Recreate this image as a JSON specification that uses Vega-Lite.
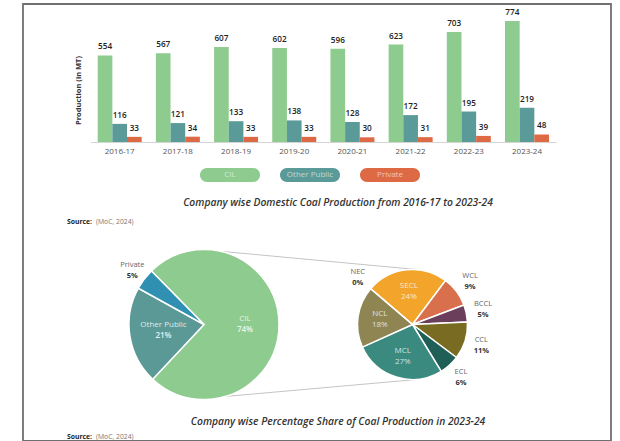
{
  "$schema": "https://vega.github.io/schema/vega-lite/v6.json",
  "width": 588,
  "height": 437,
  "autosize": "none",
  "padding": {"left": 23, "top": 4, "right": 9, "bottom": 0},
  "background": "#ffffff",
  "config": {
    "view": {"stroke": "#707070", "strokeWidth": 1.8},
    "font": "Open Sans",
    "axis": {"grid": false}
  },
  "datasets": {
    "production": [
      {"year": "2016-17", "company": "CIL", "mt": 554},
      {"year": "2016-17", "company": "Other Public", "mt": 116},
      {"year": "2016-17", "company": "Private", "mt": 33},
      {"year": "2017-18", "company": "CIL", "mt": 567},
      {"year": "2017-18", "company": "Other Public", "mt": 121},
      {"year": "2017-18", "company": "Private", "mt": 34},
      {"year": "2018-19", "company": "CIL", "mt": 607},
      {"year": "2018-19", "company": "Other Public", "mt": 133},
      {"year": "2018-19", "company": "Private", "mt": 33},
      {"year": "2019-20", "company": "CIL", "mt": 602},
      {"year": "2019-20", "company": "Other Public", "mt": 138},
      {"year": "2019-20", "company": "Private", "mt": 33},
      {"year": "2020-21", "company": "CIL", "mt": 596},
      {"year": "2020-21", "company": "Other Public", "mt": 128},
      {"year": "2020-21", "company": "Private", "mt": 30},
      {"year": "2021-22", "company": "CIL", "mt": 623},
      {"year": "2021-22", "company": "Other Public", "mt": 172},
      {"year": "2021-22", "company": "Private", "mt": 31},
      {"year": "2022-23", "company": "CIL", "mt": 703},
      {"year": "2022-23", "company": "Other Public", "mt": 195},
      {"year": "2022-23", "company": "Private", "mt": 39},
      {"year": "2023-24", "company": "CIL", "mt": 774},
      {"year": "2023-24", "company": "Other Public", "mt": 219},
      {"year": "2023-24", "company": "Private", "mt": 48}
    ],
    "companies": [
      {"company": "CIL"},
      {"company": "Other Public"},
      {"company": "Private"}
    ],
    "captions": [
      {"caption": "Company wise Domestic Coal Production from 2016-17 to 2023-24"},
      {"caption": "Company wise Percentage Share of Coal Production in 2023-24"}
    ],
    "sources": [
      {"figure": "production", "part": "Source:"},
      {"figure": "production", "part": "(MoC, 2024)"},
      {"figure": "share", "part": "Source:"},
      {"figure": "share", "part": "(MoC, 2024)"}
    ],
    "overall": [
      {"pie": "Company-wise", "company": "CIL", "mt": 774, "share": 0.74, "seq": 1},
      {"pie": "Company-wise", "company": "Other Public", "mt": 219, "share": 0.21, "seq": 2},
      {"pie": "Company-wise", "company": "Private", "mt": 48, "share": 0.05, "seq": 3}
    ],
    "cil": [
      {"pie": "CIL subsidiaries", "subsidiary": "SECL", "share": 0.24, "seq": 1},
      {"pie": "CIL subsidiaries", "subsidiary": "WCL", "share": 0.09, "seq": 2},
      {"pie": "CIL subsidiaries", "subsidiary": "BCCL", "share": 0.05, "seq": 3},
      {"pie": "CIL subsidiaries", "subsidiary": "CCL", "share": 0.11, "seq": 4},
      {"pie": "CIL subsidiaries", "subsidiary": "ECL", "share": 0.06, "seq": 5},
      {"pie": "CIL subsidiaries", "subsidiary": "MCL", "share": 0.27, "seq": 6},
      {"pie": "CIL subsidiaries", "subsidiary": "NCL", "share": 0.18, "seq": 7},
      {"pie": "CIL subsidiaries", "subsidiary": "NEC", "share": 0.0, "seq": 8}
    ],
    "links": [
      {"from": "Company-wise", "to": "CIL subsidiaries", "edge": "top"},
      {"from": "Company-wise", "to": "CIL subsidiaries", "edge": "bottom"}
    ]
  },
  "resolve": {"scale": {"x": "independent", "y": "independent", "color": "independent"}},
  "layer": [
    {
      "data": {"name": "production"},
      "encoding": {
        "x": {
          "field": "year", "type": "nominal",
          "scale": {"range": [67.6, 533.1], "paddingInner": 0.244, "paddingOuter": 0.122},
          "axis": {"orient": "bottom", "offset": -299, "title": null, "domainColor": "#d4d4d4", "domainWidth": 1, "ticks": false, "labelColor": "#555555", "labelFontSize": 8, "labelPadding": 5, "labelAngle": 0}
        },
        "xOffset": {"field": "company", "type": "nominal", "sort": ["CIL", "Other Public", "Private"], "scale": {"paddingInner": 0, "paddingOuter": 0}},
        "y": {
          "field": "mt", "type": "quantitative",
          "scale": {"domain": [0, 774], "range": [138, 17], "nice": false},
          "axis": {"orient": "left", "title": "Production (in MT)", "domain": false, "ticks": false, "labels": false, "titleX": 59, "titleY": 86, "titleFontSize": 7.5, "titleFontWeight": "bold", "titleColor": "#333333", "titleAngle": -90}
        }
      },
      "layer": [
        {
          "mark": {"type": "bar"},
          "encoding": {
            "color": {"field": "company", "type": "nominal", "scale": {"domain": ["CIL", "Other Public", "Private"], "range": ["#8dcb8e", "#5a9a98", "#dd6a44"]}, "legend": null}
          }
        },
        {
          "mark": {"type": "text", "dy": -6, "baseline": "alphabetic", "fontSize": 8.2, "fontWeight": 600, "color": "#222222"},
          "encoding": {"text": {"field": "mt", "type": "quantitative"}}
        }
      ]
    },
    {
      "data": {"name": "companies"},
      "encoding": {
        "x": {"field": "company", "type": "nominal", "sort": ["CIL", "Other Public", "Private"], "scale": {"range": [167, 407], "paddingInner": 0.25, "paddingOuter": 0.125}, "axis": null},
        "y": {"datum": "legend", "type": "nominal", "scale": {"range": [164, 178], "paddingInner": 0, "paddingOuter": 0}, "axis": null}
      },
      "layer": [
        {
          "mark": {"type": "rect", "cornerRadius": 7},
          "encoding": {
            "color": {"field": "company", "type": "nominal", "scale": {"domain": ["CIL", "Other Public", "Private"], "range": ["#8dcb8e", "#5a9a98", "#dd6a44"]}, "legend": null}
          }
        },
        {
          "mark": {"type": "text", "fontSize": 8, "color": "#ffffff", "opacity": 0.6, "baseline": "middle"},
          "encoding": {"text": {"field": "company", "type": "nominal"}}
        }
      ]
    },
    {
      "data": {"name": "captions"},
      "mark": {"type": "text", "fontSize": 10.3, "fontStyle": "italic", "fontWeight": 600, "color": "#333333", "align": "center", "baseline": "middle"},
      "encoding": {
        "x": {"field": "caption", "type": "nominal", "sort": null, "scale": {"type": "point", "range": [315, 315.01], "padding": 0}, "axis": null},
        "y": {"field": "caption", "type": "nominal", "sort": null, "scale": {"type": "point", "range": [199, 418], "padding": 0}, "axis": null},
        "text": {"field": "caption", "type": "nominal"}
      }
    },
    {
      "data": {"name": "sources"},
      "encoding": {
        "x": {"field": "part", "type": "nominal", "scale": {"type": "point", "domain": ["Source:", "(MoC, 2024)"], "range": [44, 73], "padding": 0}, "axis": null},
        "y": {"field": "figure", "type": "nominal", "scale": {"type": "point", "domain": ["production", "share"], "range": [218, 432.5], "padding": 0}, "axis": null},
        "text": {"field": "part", "type": "nominal"}
      },
      "layer": [
        {
          "transform": [{"filter": "datum.part === 'Source:'"}],
          "mark": {"type": "text", "fontSize": 6.8, "fontWeight": "bold", "color": "#222222", "align": "left", "baseline": "middle"}
        },
        {
          "transform": [{"filter": "datum.part !== 'Source:'"}],
          "mark": {"type": "text", "fontSize": 6.8, "color": "#777777", "align": "left", "baseline": "middle"}
        }
      ]
    },
    {
      "encoding": {
        "x": {"field": "pie", "type": "nominal", "scale": {"type": "point", "domain": ["Company-wise", "CIL subsidiaries"], "range": [181, 389.5], "padding": 0}, "axis": null},
        "y": {"field": "pie", "type": "nominal", "scale": {"type": "point", "domain": ["Company-wise", "CIL subsidiaries"], "range": [320.5, 320.5], "padding": 0}, "axis": null}
      },
      "resolve": {"scale": {"theta": "independent", "color": "independent"}},
      "layer": [
        {
          "data": {"name": "links"},
          "transform": [{"filter": "datum.edge === 'top'"}],
          "mark": {"type": "rule", "color": "#c4c4c4", "strokeWidth": 1, "xOffset": 19, "yOffset": -73, "x2Offset": 4, "y2Offset": -55},
          "encoding": {
            "x": {"field": "from", "type": "nominal"},
            "x2": {"field": "to"},
            "y": {"field": "from", "type": "nominal"},
            "y2": {"field": "to"}
          }
        },
        {
          "data": {"name": "links"},
          "transform": [{"filter": "datum.edge === 'bottom'"}],
          "mark": {"type": "rule", "color": "#c4c4c4", "strokeWidth": 1, "xOffset": 21, "yOffset": 72, "x2Offset": 4, "y2Offset": 55},
          "encoding": {
            "x": {"field": "from", "type": "nominal"},
            "x2": {"field": "to"},
            "y": {"field": "from", "type": "nominal"},
            "y2": {"field": "to"}
          }
        },
        {
          "data": {"name": "overall"},
          "encoding": {
            "theta": {"field": "mt", "type": "quantitative", "stack": true, "scale": {"range": [-0.7767, 5.5065]}},
            "order": {"field": "seq", "type": "quantitative"}
          },
          "layer": [
            {
              "mark": {"type": "arc", "outerRadius": 75, "stroke": "#ffffff", "strokeWidth": 1.5},
              "encoding": {
                "color": {"field": "company", "type": "nominal", "scale": {"domain": ["CIL", "Other Public", "Private"], "range": ["#8dcb8e", "#5b9996", "#2f90b2"]}, "legend": null}
              }
            },
            {
              "mark": {"type": "text", "radius": 41, "dy": -5.5, "fontSize": 8, "color": "#ffffff", "opacity": 0.8, "baseline": "middle"},
              "encoding": {"text": {"condition": {"test": "datum.company !== 'Private'", "field": "company", "type": "nominal"}, "value": ""}}
            },
            {
              "mark": {"type": "text", "radius": 41, "dy": 5.5, "fontSize": 8, "fontWeight": 600, "color": "#ffffff", "opacity": 0.85, "baseline": "middle"},
              "encoding": {"text": {"condition": {"test": "datum.company !== 'Private'", "field": "share", "type": "quantitative", "format": ".0%"}, "value": ""}}
            },
            {
              "mark": {"type": "text", "radius": 90, "dy": -5.5, "fontSize": 7.5, "color": "#666666", "baseline": "middle"},
              "encoding": {"text": {"condition": {"test": "datum.company === 'Private'", "field": "company", "type": "nominal"}, "value": ""}}
            },
            {
              "mark": {"type": "text", "radius": 90, "dy": 5.5, "fontSize": 7.5, "fontWeight": "bold", "color": "#333333", "baseline": "middle"},
              "encoding": {"text": {"condition": {"test": "datum.company === 'Private'", "field": "share", "type": "quantitative", "format": ".0%"}, "value": ""}}
            }
          ]
        },
        {
          "data": {"name": "cil"},
          "encoding": {
            "theta": {"field": "share", "type": "quantitative", "stack": true, "scale": {"range": [-0.8639, 5.4193]}},
            "order": {"field": "seq", "type": "quantitative"}
          },
          "layer": [
            {
              "mark": {"type": "arc", "outerRadius": 55, "stroke": "#ffffff", "strokeWidth": 1.5},
              "encoding": {
                "color": {"field": "subsidiary", "type": "nominal", "scale": {"domain": ["SECL", "WCL", "BCCL", "CCL", "ECL", "MCL", "NCL", "NEC"], "range": ["#f2a52a", "#d86f4d", "#6b3f5b", "#7a6b22", "#1f5f58", "#3a8a80", "#8e8553", "#9e9e9e"]}, "legend": null}
              }
            },
            {
              "mark": {"type": "text", "radius": 33, "dy": -5.5, "fontSize": 8, "color": "#ffffff", "opacity": 0.75, "baseline": "middle"},
              "encoding": {"text": {"condition": {"test": "indexof(['SECL','NCL','MCL'], datum.subsidiary) >= 0", "field": "subsidiary", "type": "nominal"}, "value": ""}}
            },
            {
              "mark": {"type": "text", "radius": 33, "dy": 5.5, "fontSize": 8, "color": "#ffffff", "opacity": 0.75, "baseline": "middle"},
              "encoding": {"text": {"condition": {"test": "indexof(['SECL','NCL','MCL'], datum.subsidiary) >= 0", "field": "share", "type": "quantitative", "format": ".0%"}, "value": ""}}
            },
            {
              "mark": {"type": "text", "radius": 72, "dy": -5.5, "fontSize": 7.5, "color": "#666666", "baseline": "middle"},
              "encoding": {"text": {"condition": {"test": "indexof(['SECL','NCL','MCL'], datum.subsidiary) < 0", "field": "subsidiary", "type": "nominal"}, "value": ""}}
            },
            {
              "mark": {"type": "text", "radius": 72, "dy": 5.5, "fontSize": 7.5, "fontWeight": "bold", "color": "#333333", "baseline": "middle"},
              "encoding": {"text": {"condition": {"test": "indexof(['SECL','NCL','MCL'], datum.subsidiary) < 0", "field": "share", "type": "quantitative", "format": ".0%"}, "value": ""}}
            }
          ]
        }
      ]
    }
  ]
}
